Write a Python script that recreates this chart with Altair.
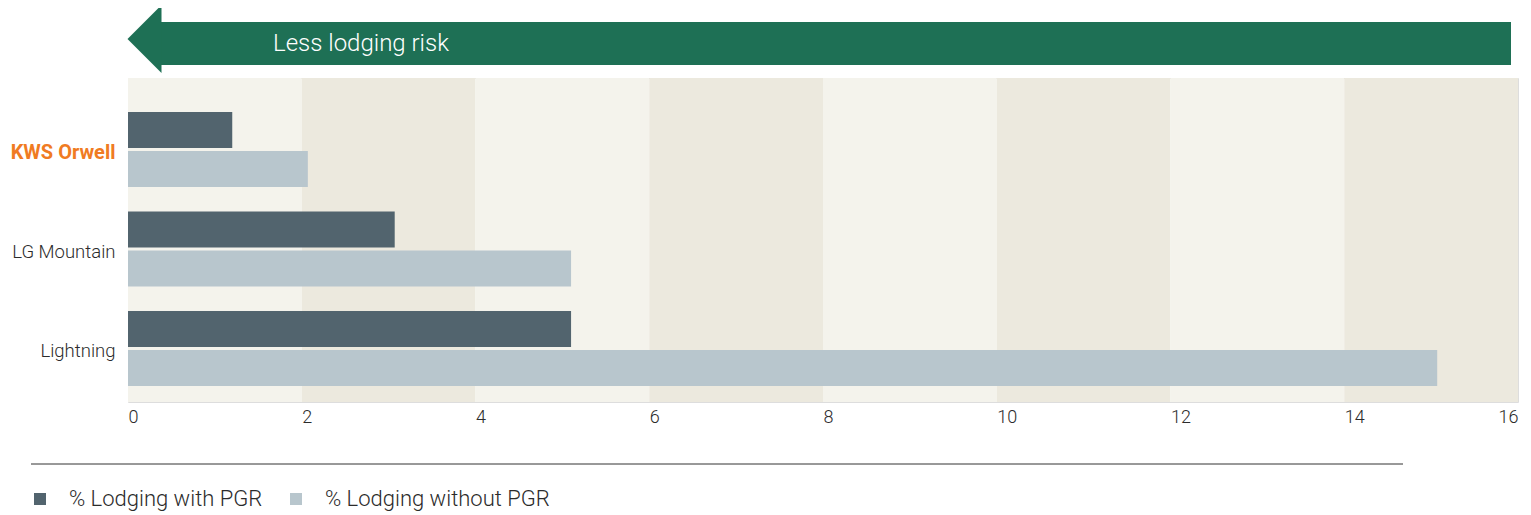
import altair as alt
import pandas as pd

# ---- data ----
varieties = ["KWS Orwell", "LG Mountain", "Lightning"]
with_pgr = [1.2, 3.07, 5.1]
without_pgr = [2.07, 5.1, 15.07]
series = ["% Lodging with PGR", "% Lodging without PGR"]
series_colors = ["#52646e", "#b8c6cd"]
band_starts = [0, 2, 4, 6, 8, 10, 12, 14]
band_colors = ["#f4f3ec", "#ece9de"]
x_ticks = [0, 2, 4, 6, 8, 10, 12, 14, 16]
arrow_label = ["Less lodging risk"]
highlight = "KWS Orwell"

FONT = "Roboto"
GREEN = "#1e7055"
TEXT = "#2b2b2b"

W, H = 1390, 324

rows = []
for v, a, b in zip(varieties, with_pgr, without_pgr):
    rows.append({"variety": v, "series": series[0], "value": a})
    rows.append({"variety": v, "series": series[1], "value": b})
bars_df = pd.DataFrame(rows)

bands_df = pd.DataFrame({
    "value": band_starts,
    "end": [s + 2 for s in band_starts],
    "shade": [band_colors[i % 2] for i in range(len(band_starts))],
})

xscale = alt.Scale(domain=[0, 16], nice=False, zero=True)
xaxis = alt.Axis(
    title=None, values=x_ticks, domain=False, ticks=False, grid=False,
    labelFont=FONT, labelFontSize=18, labelFontWeight=300, labelColor=TEXT,
    labelPadding=6,
    labelAlign={"condition": {"test": "datum.value === 16", "value": "right"}, "value": "left"},
)

bands = alt.Chart(bands_df).mark_rect().encode(
    x=alt.X("value:Q", scale=xscale, axis=xaxis),
    x2="end:Q",
    y=alt.value(0),
    y2=alt.value(H),
    fill=alt.Fill("shade:N", scale=None, legend=None),
)

cond = f"datum.value === '{highlight}'"
bars = alt.Chart(bars_df).mark_bar(cornerRadius=0).encode(
    x=alt.X("value:Q", scale=xscale, axis=xaxis),
    y=alt.Y(
        "variety:N",
        sort=varieties,
        scale=alt.Scale(range=[34, 308], paddingInner=0.246, paddingOuter=0),
        axis=alt.Axis(
            title=None, domain=False, ticks=False, labelPadding=13, labelOffset=3,
            labelFont=FONT, labelLimit=300,
            labelFontSize={"condition": {"test": cond, "value": 20}, "value": 18.5},
            labelColor={"condition": {"test": cond, "value": "#f07b22"}, "value": TEXT},
            labelFontWeight={"condition": {"test": cond, "value": "bold"}, "value": 300},
        ),
    ),
    yOffset=alt.YOffset("series:N", sort=series, scale=alt.Scale(paddingInner=0.077, paddingOuter=0)),
    color=alt.Color(
        "series:N",
        scale=alt.Scale(domain=series, range=series_colors),
        legend=alt.Legend(
            title=None, orient="none", legendX=-99, legendY=410, direction="horizontal",
            symbolType="square", symbolSize=144, symbolStrokeWidth=0, symbolOpacity=1,
            labelFont=FONT, labelFontSize=22, labelFontWeight=300, labelColor=TEXT,
            labelOffset=18, columnPadding=22, labelLimit=400, padding=0,
        ),
    ),
)

one = alt.Data(values=[{"label": arrow_label[0]}])

arrow_body = alt.Chart(one).mark_rect(color=GREEN).encode(
    x=alt.value(33), x2=alt.value(1383), y=alt.value(-56), y2=alt.value(-13)
)
arrow_head = alt.Chart(one).mark_point(
    shape="M-1,0L0,-1L0,1Z", filled=True, size=4624, color=GREEN, opacity=1, strokeWidth=0
).encode(x=alt.value(33.5), y=alt.value(-39))
arrow_text = alt.Chart(one).mark_text(
    align="left", baseline="middle", color="white", font=FONT, fontSize=24, fontWeight=300
).encode(x=alt.value(145), y=alt.value(-34), text="label:N")

rule = alt.Chart(one).mark_rule(color="#333333", strokeWidth=1).encode(
    x=alt.value(-97), x2=alt.value(1275), y=alt.value(386)
)

chart = alt.layer(bands, bars, arrow_body, arrow_head, arrow_text, rule).properties(
    width=W, height=H,
    autosize=alt.AutoSizeParams(type="none"),
    padding={"left": 120, "top": 70, "right": 5, "bottom": 113},
).configure_view(stroke=None).configure(background="white")

chart.save("out.html", embed_options={"renderer": "svg", "actions": False})
